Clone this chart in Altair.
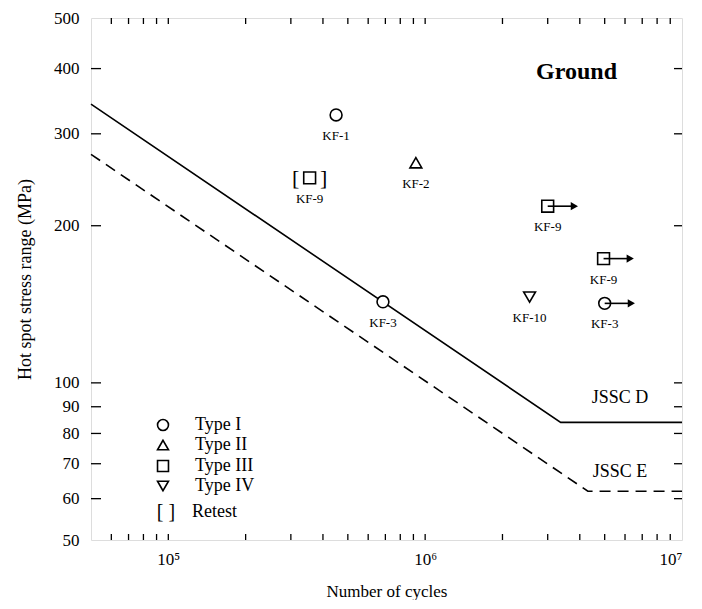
import altair as alt
import pandas as pd

# ---- data ----
# design curves (cycles, stress range MPa)
jssc_d_n = [5e4, 3.37e6, 1e7]
jssc_d_s = [342, 84, 84]
jssc_e_n = [5e4, 4.3e6, 1e7]
jssc_e_s = [274, 62, 62]

# test results
pt_name = ["KF-1", "KF-2", "KF-9", "KF-3", "KF-9", "KF-9", "KF-10", "KF-3"]
pt_type = ["Type I", "Type II", "Type III", "Type I", "Type III", "Type III", "Type IV", "Type I"]
pt_n = [4.5e5, 9.2e5, 3.55e5, 6.85e5, 3.0e6, 4.95e6, 2.55e6, 5.0e6]
pt_s = [326, 264, 247, 143, 218, 173, 146, 142]
pt_retest = [False, False, True, False, False, False, False, False]
pt_runout = [False, False, False, False, True, True, False, True]

# tick values
y_tick_vals = [60, 70, 80, 90, 100, 200, 300, 400]
y_label_vals = [50, 60, 70, 80, 90, 100, 200, 300, 400, 500]
x_minor = [6e4, 7e4, 8e4, 9e4, 1e5, 2e5, 3e5, 4e5, 5e5, 6e5, 7e5, 8e5, 9e5,
           1e6, 2e6, 3e6, 4e6, 5e6, 6e6, 7e6, 8e6, 9e6]
x_label_vals = [1e5, 1e6, 1e7]

legend_labels = ["Type I", "Type II", "Type III", "Type IV"]
legend_shapes = ["circle", "triangle-up", "square", "triangle-down"]

W, H = 591, 522
FONT = "Liberation Serif"

pts = pd.DataFrame({"name": pt_name, "type": pt_type, "n": pt_n, "s": pt_s,
                    "retest": pt_retest, "runout": pt_runout})
runs = pts[pts["runout"]].copy()
runs["n_end"] = runs["n"] * 1.27
retest = pts[pts["retest"]].copy()

xs = alt.Scale(type="log", domain=[5e4, 1e7], nice=False)
ys = alt.Scale(type="log", domain=[50, 500], nice=False)

x_axis = alt.Axis(values=x_label_vals, ticks=False, grid=False, domain=False,
                  labelExpr="datum.value == 100000 ? '10⁵' : datum.value == 1000000 ? '10⁶' : '10⁷'",
                  labelFont=FONT, labelFontSize=17, labelColor="black", labelPadding=11,
                  title="Number of cycles", titleFont=FONT, titleFontSize=17,
                  titleFontWeight="normal", titleColor="black", titlePadding=16)
y_axis = alt.Axis(values=y_label_vals, ticks=False, grid=False, domain=False, format="d",
                  labelFont=FONT, labelFontSize=17, labelColor="black", labelPadding=12,
                  title="Hot spot stress range (MPa)", titleFont=FONT, titleFontSize=18,
                  titleFontWeight="normal", titleColor="black", titlePadding=19)

d_df = pd.DataFrame({"n": jssc_d_n, "s": jssc_d_s})
e_df = pd.DataFrame({"n": jssc_e_n, "s": jssc_e_s})

line_d = alt.Chart(d_df).mark_line(color="black", strokeWidth=1.6).encode(
    x=alt.X("n:Q", scale=xs, axis=x_axis), y=alt.Y("s:Q", scale=ys, axis=y_axis))
line_e = alt.Chart(e_df).mark_line(color="black", strokeWidth=1.6, strokeDash=[11, 7]).encode(
    x=alt.X("n:Q", scale=xs), y=alt.Y("s:Q", scale=ys))

shape_scale = alt.Scale(domain=legend_labels, range=legend_shapes)
points = alt.Chart(pts).mark_point(filled=False, fill="white", fillOpacity=1, stroke="black",
                                   strokeWidth=1.6, size=140, opacity=1).encode(
    x=alt.X("n:Q", scale=xs), y=alt.Y("s:Q", scale=ys),
    shape=alt.Shape("type:N", scale=shape_scale, legend=None))

labels = alt.Chart(pts).mark_text(font=FONT, fontSize=13, dy=21, color="black").encode(
    x=alt.X("n:Q", scale=xs), y=alt.Y("s:Q", scale=ys), text="name:N")

arrow_line = alt.Chart(runs).mark_rule(color="black", strokeWidth=1.6).encode(
    x=alt.X("n:Q", scale=xs), x2="n_end:Q", y=alt.Y("s:Q", scale=ys))
arrow_head = alt.Chart(runs).mark_point(shape="triangle-right", filled=True, color="black",
                                        size=70, opacity=1).encode(
    x=alt.X("n_end:Q", scale=xs), y=alt.Y("s:Q", scale=ys))

br_l = alt.Chart(retest).mark_text(text="[", font=FONT, fontSize=22, dx=-14, color="black").encode(
    x=alt.X("n:Q", scale=xs), y=alt.Y("s:Q", scale=ys))
br_r = alt.Chart(retest).mark_text(text="]", font=FONT, fontSize=22, dx=14, color="black").encode(
    x=alt.X("n:Q", scale=xs), y=alt.Y("s:Q", scale=ys))

# inward ticks
yt = pd.DataFrame({"v": y_tick_vals})
xt = pd.DataFrame({"v": x_minor})
tick_l = alt.Chart(yt).mark_rule(color="black", strokeWidth=1.3).encode(
    y=alt.Y("v:Q", scale=ys), x=alt.value(0), x2=alt.value(10))
tick_r = alt.Chart(yt).mark_rule(color="black", strokeWidth=1.3).encode(
    y=alt.Y("v:Q", scale=ys), x=alt.value(W - 8), x2=alt.value(W))
tick_t = alt.Chart(xt).mark_rule(color="black", strokeWidth=1.3).encode(
    x=alt.X("v:Q", scale=xs), y=alt.value(0), y2=alt.value(6))
tick_b = alt.Chart(xt).mark_rule(color="black", strokeWidth=1.3).encode(
    x=alt.X("v:Q", scale=xs), y=alt.value(H - 6), y2=alt.value(H))

def txt(s, x, y, size=18, weight="normal", align="left"):
    return alt.Chart(pd.DataFrame({"t": [s]})).mark_text(
        font=FONT, fontSize=size, fontWeight=weight, align=align, baseline="middle",
        color="black").encode(text="t:N", x=alt.value(x), y=alt.value(y))

annots = [
    txt("Ground", 526, 54, size=24, weight="bold", align="right"),
    txt("JSSC D", 529, 380, align="center"),
    txt("JSSC E", 529, 454, align="center"),
]

# manual legend
leg_rows = [407, 427, 448, 468]
leg_layers = []
for lab, shp, yy in zip(legend_labels, legend_shapes, leg_rows):
    leg_layers.append(alt.Chart(pd.DataFrame({"t": [lab]})).mark_point(
        shape=shp, filled=False, stroke="black", strokeWidth=1.6, size=120, opacity=1).encode(
        x=alt.value(72), y=alt.value(yy)))
    leg_layers.append(txt(lab, 104, yy))
leg_layers.append(txt("[   ]", 75, 494, size=20, align="center"))
leg_layers.append(txt("Retest", 101, 494))

chart = alt.layer(line_d, line_e, tick_l, tick_r, tick_t, tick_b, points, arrow_line, arrow_head,
                  labels, br_l, br_r, *annots, *leg_layers).properties(
    width=W, height=H,
    autosize=alt.AutoSizeParams(type="none"),
    padding={"left": 83, "top": 10, "right": 10, "bottom": 60},
).configure_view(stroke="black", strokeWidth=2).configure(background="white")

chart.save("out.html", embed_options={"renderer": "svg", "actions": False})
